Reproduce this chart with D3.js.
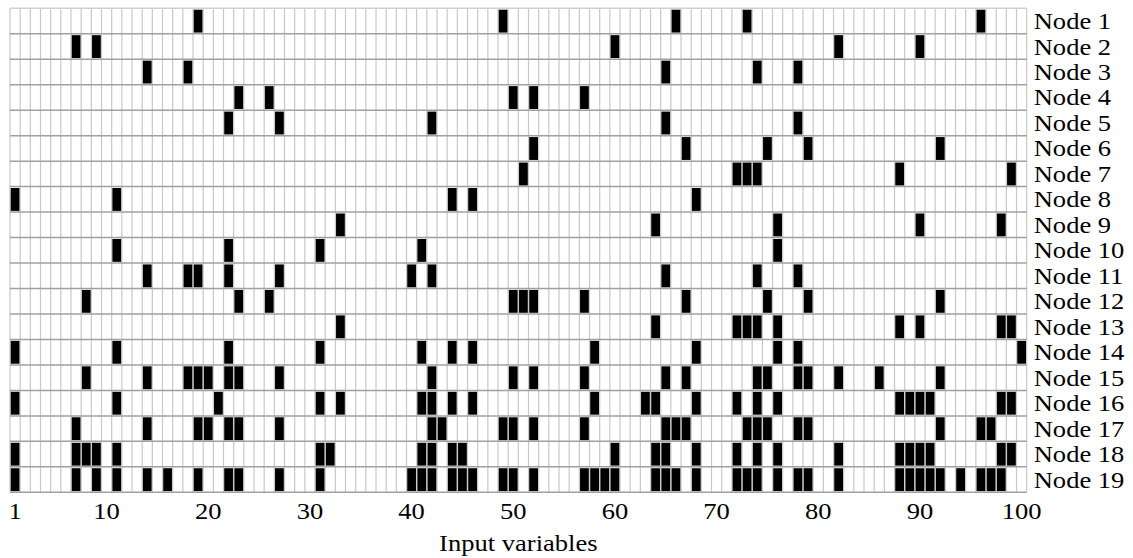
<!DOCTYPE html>
<html>
<head>
<meta charset="utf-8">
<script src="https://cdn.jsdelivr.net/npm/d3@7"></script>
<style>
body { margin: 0; background: #fff; }
svg { display: block; }
text { font-family: "Liberation Serif", "Times New Roman", serif; fill: #000; }
</style>
</head>
<body>
<svg id="chart" width="1133" height="558"></svg>
<script>
// nodes (rows) and which input variables are switched on for each
var nodeNames = ["Node 1", "Node 2", "Node 3", "Node 4", "Node 5", "Node 6", "Node 7",
                 "Node 8", "Node 9", "Node 10", "Node 11", "Node 12", "Node 13",
                 "Node 14", "Node 15", "Node 16", "Node 17", "Node 18", "Node 19"];
var node1 = [19, 49, 66, 73, 96];
var node2 = [7, 9, 60, 82, 90];
var node3 = [14, 18, 65, 74, 78];
var node4 = [23, 26, 50, 52, 57];
var node5 = [22, 27, 42, 65, 78];
var node6 = [52, 67, 75, 79, 92];
var node7 = [51, 72, 73, 74, 88, 99];
var node8 = [1, 11, 44, 46, 68];
var node9 = [33, 64, 76, 90, 98];
var node10 = [11, 22, 31, 41, 76];
var node11 = [14, 18, 19, 22, 27, 40, 42, 65, 74, 78];
var node12 = [8, 23, 26, 50, 51, 52, 57, 67, 75, 79, 92];
var node13 = [33, 64, 72, 73, 74, 76, 88, 90, 98, 99];
var node14 = [1, 11, 22, 31, 41, 44, 46, 58, 68, 76, 78, 100];
var node15 = [8, 14, 18, 19, 20, 22, 23, 27, 42, 50, 52, 57, 65, 67, 74, 75, 78, 79, 82, 86, 92];
var node16 = [1, 11, 21, 31, 33, 41, 42, 44, 46, 58, 63, 64, 68, 72, 74, 76, 88, 89, 90, 91, 98, 99];
var node17 = [7, 14, 19, 20, 22, 23, 27, 42, 43, 49, 50, 52, 57, 65, 66, 67, 73, 74, 75, 78, 79, 92, 96, 97];
var node18 = [1, 7, 8, 9, 11, 31, 32, 41, 42, 44, 45, 60, 64, 65, 68, 72, 74, 76, 82, 88, 89, 90, 91, 98, 99];
var node19 = [1, 7, 9, 11, 14, 16, 19, 22, 23, 27, 31, 40, 41, 42, 44, 45, 46, 49, 50, 52, 57, 58, 59, 60,
              64, 65, 66, 68, 72, 73, 74, 76, 78, 79, 82, 88, 89, 90, 91, 92, 94, 96, 97, 98];
var nodeVars = [node1, node2, node3, node4, node5, node6, node7, node8, node9, node10,
                node11, node12, node13, node14, node15, node16, node17, node18, node19];
var varCount = 100;
var tickLabels = [1, 10, 20, 30, 40, 50, 60, 70, 80, 90, 100];
var xTitle = "Input variables";

var svg = d3.select("#chart");
var gridLeft = 10, gridRight = 1026.7, gridTop = 8.3, gridBottom = 492.3;
var textStretch = 1.13;

var vars = d3.range(1, varCount + 1);
var x = d3.scaleBand().domain(vars).range([gridLeft, gridRight]);
var y = d3.scaleBand().domain(nodeNames).range([gridTop, gridBottom]);

// flatten into cells
var cells = [];
nodeVars.forEach(function(list, i){
    list.forEach(function(v){
        cells.push({node: nodeNames[i], v: v});
    });
});

// vertical grid lines (light)
svg.append("g").selectAll("line").data(d3.range(varCount + 1)).enter().append("line")
    .attr("x1", function(d){return gridLeft + d * x.bandwidth()})
    .attr("x2", function(d){return gridLeft + d * x.bandwidth()})
    .attr("y1", gridTop)
    .attr("y2", gridBottom)
    .attr("stroke", "#c8c8c8")
    .attr("stroke-width", 1.2);

// horizontal grid lines (a bit darker)
svg.append("g").selectAll("line").data(d3.range(nodeNames.length + 1)).enter().append("line")
    .attr("x1", gridLeft)
    .attr("x2", gridRight)
    .attr("y1", function(d){return gridTop + d * y.bandwidth()})
    .attr("y2", function(d){return gridTop + d * y.bandwidth()})
    .attr("stroke", function(d){return d == 0 ? "#d0d0d0" : "#a0a0a0"})
    .attr("stroke-width", 1.5);

// black cells
svg.append("g").selectAll("rect").data(cells).enter().append("rect")
    .attr("x", function(d){return x(d.v) + 0.7})
    .attr("y", function(d){return y(d.node) + 1.4})
    .attr("width", x.bandwidth() - 1.4)
    .attr("height", y.bandwidth() - 2.6)
    .attr("fill", "#000");

// node labels on the right
svg.append("g").selectAll("text").data(nodeNames).enter().append("text")
    .attr("transform", function(d){
        return "translate(" + (gridRight + 7) + "," + (y(d) + y.bandwidth() / 2 + 8) + ") scale(" + textStretch + ",1)"})
    .attr("font-size", 23.5)
    .text(function(d){return d});

// x tick labels
svg.append("g").selectAll("text").data(tickLabels).enter().append("text")
    .attr("transform", function(d){
        return "translate(" + (x(d) + x.bandwidth() / 2) + ",519) scale(" + textStretch + ",1)"})
    .attr("text-anchor", "middle")
    .attr("font-size", 23.5)
    .text(function(d){return d});

// axis title
svg.append("text")
    .attr("transform", "translate(" + ((gridLeft + gridRight) / 2) + ",551) scale(" + textStretch + ",1)")
    .attr("text-anchor", "middle")
    .attr("font-size", 23.5)
    .text(xTitle);
</script>
</body>
</html>
